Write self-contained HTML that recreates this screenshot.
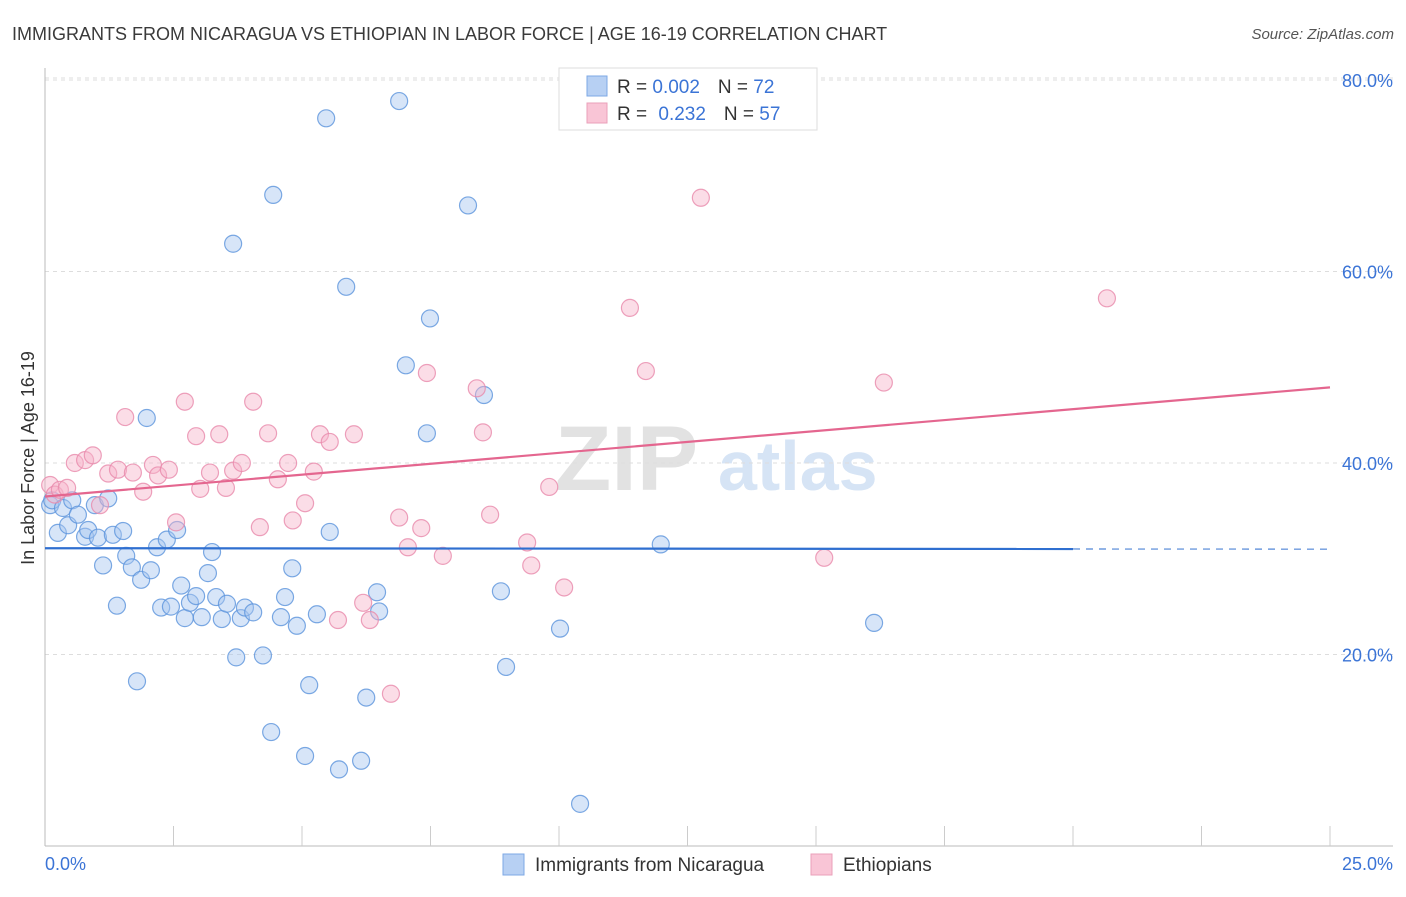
<!DOCTYPE html>
<html><head><meta charset="utf-8"><style>
body{margin:0;background:#fff;font-family:"Liberation Sans",sans-serif;}
svg text{font-family:"Liberation Sans",sans-serif;}
</style></head><body>
<svg id="chart" width="1406" height="892" viewBox="0 0 1406 892" xmlns="http://www.w3.org/2000/svg">
<text x="12" y="40" font-size="18" fill="#3a3a3a">IMMIGRANTS FROM NICARAGUA VS ETHIOPIAN IN LABOR FORCE | AGE 16-19 CORRELATION CHART</text>
<text x="1394" y="39" font-size="15" fill="#555" font-style="italic" text-anchor="end">Source: ZipAtlas.com</text>
<g>
<text x="555" y="490" font-size="92" fill="#e2e2e2" font-family="Liberation Serif" font-weight="bold">ZIP</text>
<text x="718" y="490" font-size="70" fill="#d6e4f5" font-weight="bold">atlas</text>
</g>
<g id="grid"></g>
<g id="axes"></g>
<g id="pts"></g>
<g id="lines"></g>
<text transform="translate(34,458) rotate(-90)" font-size="18" fill="#333" text-anchor="middle">In Labor Force | Age 16-19</text>
<g>
<rect x="559" y="68" width="258" height="62" fill="#fff" stroke="#ddd"/>
<rect x="587" y="76" width="20" height="20" fill="#b7d0f3" stroke="#7ea8e6"/>
<rect x="587" y="103" width="20" height="20" fill="#f9c5d6" stroke="#eaa0ba"/>
<text x="617" y="93" font-size="19" fill="#333">R = <tspan fill="#3b74d6">0.002</tspan><tspan dx="18">N = </tspan><tspan fill="#3b74d6">72</tspan></text>
<text x="617" y="120" font-size="19" fill="#333">R = <tspan dx="6" fill="#3b74d6">0.232</tspan><tspan dx="18">N = </tspan><tspan fill="#3b74d6">57</tspan></text>
</g>
<g>
<rect x="503" y="854" width="21" height="21" fill="#b7d0f3" stroke="#7ea8e6"/>
<text x="535" y="871" font-size="19" fill="#333">Immigrants from Nicaragua</text>
<rect x="811" y="854" width="21" height="21" fill="#f9c5d6" stroke="#eaa0ba"/>
<text x="843" y="871" font-size="19" fill="#333">Ethiopians</text>
</g>
</svg>
<script>
const yTicks=[20,40,60,80];
const yTickLabels=["20.0%","40.0%","60.0%","80.0%"];
const xTickCount=10;
const xLabels=["0.0%","25.0%"];
const blueX=[.10,.14,.25,.35,.45,.53,.64,.78,.84,.97,1.03,1.13,1.23,1.32,1.40,1.52,1.58,1.69,1.79,1.87,1.98,2.06,2.18,2.26,2.37,2.45,2.57,2.65,2.72,2.82,2.94,3.05,3.17,3.25,3.33,3.44,3.54,3.66,3.72,3.81,3.89,4.05,4.24,4.40,4.44,4.59,4.67,4.81,4.90,5.06,5.14,5.29,5.47,5.54,5.72,5.86,6.15,6.25,6.46,6.50,6.89,7.02,7.43,7.49,8.23,8.54,8.87,8.97,10.02,10.41,11.98,16.13];
const blueY=[35.6,36.1,32.7,35.3,33.5,36.1,34.6,32.3,33.0,35.6,32.2,29.3,36.3,32.5,25.1,32.9,30.3,29.1,17.2,27.8,44.7,28.8,31.2,24.9,32.0,25.0,33.0,27.2,23.8,25.4,26.1,23.9,28.5,30.7,26.0,23.7,25.3,62.9,19.7,23.8,24.9,24.4,19.9,11.9,68.0,23.9,26.0,29.0,23.0,9.4,16.8,24.2,76.0,32.8,8.0,58.4,8.9,15.5,26.5,24.5,77.8,50.2,43.1,55.1,66.9,47.1,26.6,18.7,22.7,4.4,31.5,23.3];
const pinkX=[.10,.19,.29,.43,.58,.78,.93,1.07,1.23,1.42,1.56,1.71,1.91,2.10,2.20,2.41,2.55,2.72,2.94,3.02,3.21,3.39,3.52,3.66,3.83,4.05,4.18,4.34,4.53,4.73,4.82,5.06,5.23,5.35,5.54,5.70,6.01,6.19,6.32,6.73,6.89,7.06,7.32,7.43,7.74,8.40,8.52,8.66,9.38,9.46,9.81,10.10,11.38,11.69,12.76,15.16,16.32,20.66];
const pinkY=[37.7,36.7,37.2,37.4,40.0,40.3,40.8,35.6,38.9,39.3,44.8,39.0,37.0,39.8,38.7,39.3,33.8,46.4,42.8,37.3,39.0,43.0,37.4,39.2,40.0,46.4,33.3,43.1,38.3,40.0,34.0,35.8,39.1,43.0,42.2,23.6,43.0,25.4,23.6,15.9,34.3,31.2,33.2,49.4,30.3,47.8,43.2,34.6,31.7,29.3,37.5,27.0,56.2,49.6,67.7,30.1,48.4,57.2];
const blueTrend=[31.1,31.0];
const pinkTrend=[36.5,47.9];

const NS="http://www.w3.org/2000/svg";
const X0=45,X1=1330,Y0=846,Y80=80;
function sx(v){return X0+(X1-X0)*v/25;}
function sy(v){return Y0-(Y0-Y80)*v/80;}
function mk(tag,attrs,parent){const e=document.createElementNS(NS,tag);for(const k in attrs)e.setAttribute(k,attrs[k]);parent.appendChild(e);return e;}
const grid=document.getElementById('grid'),axes=document.getElementById('axes'),pts=document.getElementById('pts'),lines=document.getElementById('lines');
yTicks.forEach((t,i)=>{
 const l=mk('line',{x1:X0,x2:1393,y1:sy(t),y2:sy(t),stroke:'#ddd','stroke-dasharray':'4,4'},grid);
 
 
 const tx=mk('text',{x:1393,y:sy(t)+7,'font-size':18,fill:'#3b74d6','text-anchor':'end'},axes);
 tx.textContent=yTickLabels[i];
 
 
});
mk('line',{x1:X0,x2:1393,y1:sy(80)-2,y2:sy(80)-2,stroke:'#ddd','stroke-dasharray':'4,4'},grid);
const ya=mk('line',{x1:X0,x2:X0,y1:68,y2:Y0,stroke:'#bbb'},axes);


const xa=mk('line',{x1:X0,x2:1393,y1:Y0,y2:Y0,stroke:'#bbb'},axes);


for(let i=1;i<=xTickCount;i++){const x=sx(25*i/xTickCount);const t=mk('line',{x1:x,x2:x,y1:826,y2:Y0,stroke:'#ccc'},axes);
 
 }
const l0=mk('text',{x:45,y:870,'font-size':18,fill:'#3b74d6'},axes);l0.textContent=xLabels[0];


const l1=mk('text',{x:1393,y:870,'font-size':18,fill:'#3b74d6','text-anchor':'end'},axes);l1.textContent=xLabels[1];


function dots(xs,ys,fill,stroke,name){xs.forEach((x,i)=>{const c=mk('circle',{cx:sx(x),cy:sy(ys[i]),r:8.5,fill:fill,'fill-opacity':0.45,stroke:stroke,'stroke-opacity':0.8,'stroke-width':1.2},pts);
 
 });}
dots(blueX,blueY,'#a7c5ef','#5b93dc','point-nicaragua');
dots(pinkX,pinkY,'#f6b4ca','#e88aab','point-ethiopian');
const bl=mk('line',{x1:sx(0),y1:sy(blueTrend[0]),x2:sx(20),y2:sy(blueTrend[0]+(blueTrend[1]-blueTrend[0])*0.8),stroke:'#2f6fd0','stroke-width':2.2},lines);


const bd=mk('line',{x1:sx(20),y1:sy(blueTrend[0]+(blueTrend[1]-blueTrend[0])*0.8),x2:sx(25),y2:sy(blueTrend[1]),stroke:'#2f6fd0','stroke-width':1.4,'stroke-dasharray':'7,6','stroke-opacity':0.7},lines);


const pl=mk('line',{x1:sx(0),y1:sy(pinkTrend[0]),x2:sx(25),y2:sy(pinkTrend[1]),stroke:'#e4668f','stroke-width':2.2},lines);


</script>
</body></html>
